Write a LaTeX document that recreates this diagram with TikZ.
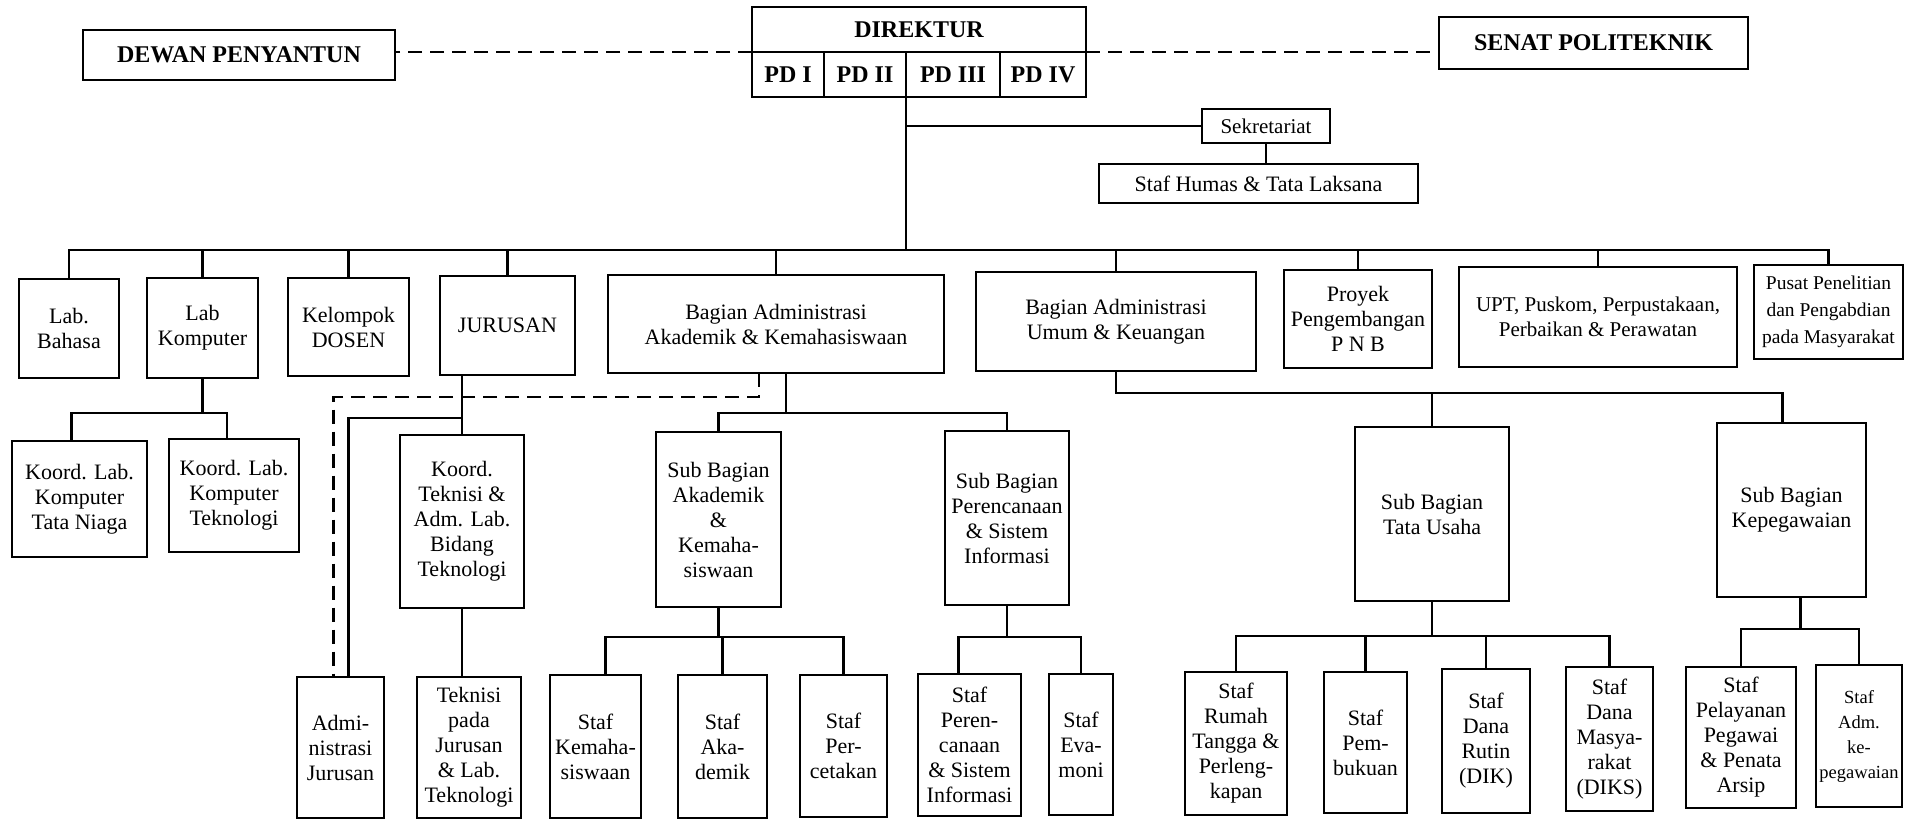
\documentclass[tikz,border=0pt]{standalone}
\usepackage{fontspec}
\setmainfont{Liberation Serif}
\newcommand\normfs{\fontsize{22}{25}\selectfont}
\newcommand\boldfs{\fontsize{24}{28}\selectfont\bfseries}
\tikzset{
  box/.style={draw, line width=2.2pt, align=center, inner sep=1pt, outer sep=0pt, font=\normfs},
  bbox/.style={box, font=\boldfs},
  conn/.style={line width=2.2pt},
  dsh/.style={line width=2.2pt, dash pattern=on 14pt off 8pt},
}
\newcommand\bx[7][]{\node[box,#1,minimum width={#5-#3},minimum height={#6-#4}] (#2) at ({(#3+#5)/2},{(#4+#6)/2}) {#7};}
\begin{document}
\begin{tikzpicture}[x=1pt,y=-1pt]
\useasboundingbox[fill=white] (0,0) rectangle (1908,820);
% top
\bx[bbox]{dewan}{83}{30}{395}{80}{DEWAN PENYANTUN}
\bx[bbox]{dirtitle}{752}{7}{1086}{52}{DIREKTUR}
\bx[bbox]{pd1}{752}{52}{824}{97}{PD I}
\bx[bbox]{pd2}{824}{52}{906}{97}{PD II}
\bx[bbox]{pd3}{906}{52}{1000}{97}{PD III}
\bx[bbox]{pd4}{1000}{52}{1086}{97}{PD IV}
\bx[bbox]{senat}{1439}{17}{1748}{69}{SENAT POLITEKNIK}
\bx[font=\fontsize{21}{24}\selectfont]{sekr}{1202}{109}{1330}{143}{Sekretariat}
\bx{humas}{1099}{164}{1418}{203}{Staf Humas \& Tata Laksana}
% level 2
\bx{lbahasa}{19}{279}{119}{378}{Lab.\\Bahasa}
\bx{lkomp}{147}{278}{258}{378}{Lab\\Komputer}
\bx{kdosen}{288}{278}{409}{376}{Kelompok\\DOSEN}
\bx{jur}{440}{276}{575}{375}{JURUSAN}
\bx{baak}{608}{275}{944}{373}{Bagian Administrasi\\Akademik \& Kemahasiswaan}
\bx{bauk}{976}{272}{1256}{371}{Bagian Administrasi\\Umum \& Keuangan}
\bx{proyek}{1284}{270}{1432}{368}{Proyek\\Pengembangan\\P N B}
\bx[font=\fontsize{21}{25}\selectfont]{upt}{1459}{267}{1737}{367}{UPT, Puskom, Perpustakaan,\\Perbaikan \& Perawatan}
\bx[font=\fontsize{19.5}{27}\selectfont]{pusat}{1754}{265}{1903}{359}{Pusat Penelitian\\dan Pengabdian\\pada Masyarakat}
% level 3
\bx{ktn}{12}{441}{147}{557}{Koord. Lab.\\Komputer\\Tata Niaga}
\bx{ktek}{169}{439}{299}{552}{Koord. Lab.\\Komputer\\Teknologi}
\bx{kteknisi}{400}{435}{524}{608}{Koord.\\Teknisi \&\\Adm. Lab.\\Bidang\\Teknologi}
\bx{subak}{656}{432}{781}{607}{Sub Bagian\\Akademik\\\&\\Kemaha-\\siswaan}
\bx{subper}{945}{431}{1069}{605}{Sub Bagian\\Perencanaan\\\& Sistem\\Informasi}
\bx{subtu}{1355}{427}{1509}{601}{Sub Bagian\\Tata Usaha}
\bx{subkep}{1717}{423}{1866}{597}{Sub Bagian\\Kepegawaian}
% bottom row
\bx{admjur}{297}{677}{384}{818}{Admi-\\nistrasi\\Jurusan}
\bx{teknisi}{417}{677}{521}{818}{Teknisi\\pada\\Jurusan\\\& Lab.\\Teknologi}
\bx{skemah}{550}{675}{641}{818}{Staf\\Kemaha-\\siswaan}
\bx{sakad}{678}{675}{767}{818}{Staf\\Aka-\\demik}
\bx{sperc}{800}{675}{887}{817}{Staf\\Per-\\cetakan}
\bx{speren}{918}{674}{1021}{816}{Staf\\Peren-\\canaan\\\& Sistem\\Informasi}
\bx{sevam}{1049}{674}{1113}{815}{Staf\\Eva-\\moni}
\bx{srumah}{1185}{672}{1287}{815}{Staf\\Rumah\\Tangga \&\\Perleng-\\kapan}
\bx{spemb}{1324}{672}{1407}{813}{Staf\\Pem-\\bukuan}
\bx{srutin}{1442}{669}{1530}{813}{Staf\\Dana\\Rutin\\(DIK)}
\bx{smasy}{1566}{667}{1653}{811}{Staf\\Dana\\Masya-\\rakat\\(DIKS)}
\bx{spelay}{1686}{667}{1796}{808}{Staf\\Pelayanan\\Pegawai\\\& Penata\\Arsip}
\bx[font=\fontsize{18.5}{25}\selectfont]{sadmkep}{1816}{665}{1902}{807}{Staf\\Adm.\\ke-\\pegawaian}
% helper coordinates
\coordinate (bus) at (0,250);
\coordinate (lkbus) at (0,413);
\coordinate (jbus) at (0,418);
\coordinate (dbus) at (0,397);
\coordinate (abus) at (0,413);
\coordinate (sbus) at (0,637);
\coordinate (ubus) at (0,393);
\coordinate (tbus) at (0,636);
\coordinate (kbus) at (0,629);
\coordinate (kn1) at ([xshift=-8pt]ktn.north);
\coordinate (kn2) at ([xshift=-7pt]ktek.north);
\coordinate (aj1) at ([xshift=-7pt]admjur.north);
\coordinate (aj2) at ([xshift=8pt]admjur.north);
\coordinate (bk1) at ([xshift=-17pt]baak.south);
\coordinate (bk2) at ([xshift=10pt]baak.south);
\coordinate (sk1) at ([xshift=10pt]skemah.north);
\coordinate (sp1) at ([xshift=-11pt]speren.north);
\coordinate (kg1) at ([xshift=-9pt]subkep.north);
\coordinate (kp1) at ([xshift=9pt]subkep.south);
% dashed links
\draw[dsh] (dirtitle.south west) -- (dirtitle.south west -| dewan.east);
\draw[dsh] (dirtitle.south east) -- (dirtitle.south east -| senat.west);
% trunk
\draw[conn] (pd3.south west) -- (pd3.south west |- bus);
\draw[conn] (sekr.west) -- (sekr.west -| pd3.south west);
\draw[conn] (sekr.south) -- (sekr.south |- humas.north);
\draw[conn] (lbahasa.north) |- (bus -| pusat.north) -- (pusat.north);
\foreach \n in {lkomp,kdosen,jur,baak,bauk,proyek,upt}
  \draw[conn] (\n.north) -- (\n.north |- bus);
% lab komputer
\draw[conn] (lkomp.south) -- (lkomp.south |- lkbus);
\draw[conn] (kn1) |- (lkbus -| kn2) -- (kn2);
% jurusan
\draw[conn] (kteknisi.north) -- (kteknisi.north |- jur.south);
\draw[conn] (kteknisi.north |- jbus) -| (aj2);
\draw[dsh] (bk1) |- (dbus -| aj1) -- (aj1);
\draw[conn] (kteknisi.south) -- (kteknisi.south |- teknisi.north);
% BAAK
\draw[conn] (bk2) -- (bk2 |- abus);
\draw[conn] (subak.north) |- (abus -| subper.north) -- (subper.north);
\draw[conn] (subak.south) -- (subak.south |- sbus);
\draw[conn] (sk1) |- (sbus -| sperc.north) -- (sperc.north);
\draw[conn] (sakad.north) -- (sakad.north |- sbus);
\draw[conn] (subper.south) -- (subper.south |- sbus);
\draw[conn] (sp1) |- (sbus -| sevam.north) -- (sevam.north);
% BAUK
\draw[conn] (bauk.south) |- (ubus -| kg1) -- (kg1);
\draw[conn] (subtu.north) -- (subtu.north |- ubus);
\draw[conn] (subtu.south) -- (subtu.south |- tbus);
\draw[conn] (srumah.north) |- (tbus -| smasy.north) -- (smasy.north);
\foreach \n in {spemb,srutin}
  \draw[conn] (\n.north) -- (\n.north |- tbus);
\draw[conn] (kp1) -- (kp1 |- kbus);
\draw[conn] (spelay.north) |- (kbus -| sadmkep.north) -- (sadmkep.north);
\end{tikzpicture}
\end{document}
